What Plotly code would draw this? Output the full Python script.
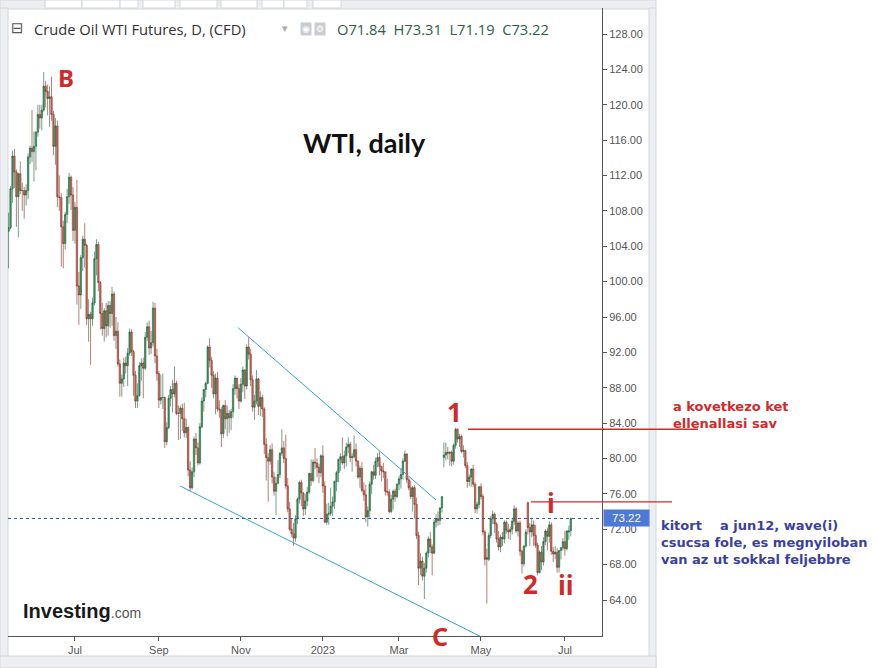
import pandas as pd
import plotly.graph_objects as go

W, H = 878, 668

# trading days (NYMEX holidays removed)
holidays = ['2022-05-30', '2022-06-20', '2022-07-04', '2022-09-05', '2022-11-24',
            '2022-12-26', '2023-01-02', '2023-01-16', '2023-02-20', '2023-04-07',
            '2023-05-29', '2023-06-19', '2023-07-04']
days = pd.bdate_range('2022-05-12', '2023-07-07')
days = days[~days.isin(pd.to_datetime(holidays))]
dates = days.strftime('%Y-%m-%d').tolist()

tick_months = ['2022-07', '2022-09', '2022-11', '2023-01', '2023-03', '2023-05', '2023-07']
tick_labels = ['Jul', 'Sep', 'Nov', '2023', 'Mar', 'May', 'Jul']
price_ticks = list(range(64, 129, 4))

# daily OHLC, one row per month
open_ = [
    105.7, 106.1, 110.5, 114.2, 112.4, 109.6, 112.2, 110.3, 110.3, 109.8, 110.3, 114.1, 115.1,
    114.7, 115.3, 116.9, 118.9, 118.5, 119.4, 122.1, 121.5, 120.7, 120.9, 118.9, 115.3, 117.6, 109.6, 109.5, 106.2, 104.3, 107.6, 109.6, 111.8, 109.8,
    105.8, 108.4, 99.5, 98.5, 102.7, 104.8, 104.1, 95.8, 96.3, 95.8, 97.6, 102.6, 104.2, 99.9, 96.4, 94.7, 96.7, 95.0, 97.3, 96.4,
    98.6, 93.9, 94.4, 90.7, 88.5, 89.0, 90.8, 90.5, 91.9, 94.3, 92.1, 89.4, 86.5, 87.1, 90.5, 90.8, 90.2, 93.7, 94.9, 92.5, 93.1, 97.0, 91.6,
    89.6, 86.6, 86.9, 86.9, 81.9, 83.5, 86.8, 87.8, 87.3, 88.5, 85.1, 85.1, 85.7, 84.5, 82.9, 83.5, 78.7, 76.7, 78.5, 82.2, 81.2,
    79.5, 83.6, 86.5, 87.8, 88.5, 92.6, 91.1, 89.4, 87.3, 89.1, 85.6, 85.5, 82.8, 86.0, 84.5, 85.1, 84.6, 85.3, 87.9, 89.1, 87.9,
    86.5, 88.4, 90.0, 88.2, 92.6, 91.8, 88.9, 85.8, 86.5, 89.0, 85.9, 86.9, 85.6, 81.6, 80.1, 79.7, 81.0, 77.9, 76.3, 77.2, 78.2,
    80.6, 81.2, 80.0, 76.9, 74.3, 72.0, 71.5, 71.0, 73.2, 75.4, 77.3, 76.1, 74.3, 75.2, 76.2, 78.3, 77.5, 79.6, 79.5, 79.0, 78.4,
    80.3, 76.9, 72.8, 73.7, 73.8, 74.6, 75.1, 77.4, 78.4, 79.9, 80.2, 79.5, 80.3, 81.3, 81.6, 80.1, 80.2, 81.0, 79.7, 77.9,
    78.9, 76.4, 75.9, 73.4, 74.1, 77.1, 78.5, 78.1, 79.7, 80.1, 79.1, 78.6, 78.5, 76.3, 76.2, 74.0, 75.4, 76.3, 75.7,
    77.1, 77.7, 78.2, 79.7, 80.5, 77.6, 76.7, 75.7, 76.7, 74.8, 71.3, 67.6, 68.4, 66.7, 67.6, 69.3, 70.9, 70.0, 69.3, 72.8, 73.2, 73.0, 74.4,
    80.1, 80.4, 80.7, 80.6, 80.7, 79.7, 81.5, 83.3, 82.2, 82.5, 80.8, 80.9, 79.2, 77.4, 77.9, 78.8, 77.1, 74.3, 74.8,
    76.8, 75.7, 71.7, 68.8, 68.6, 71.3, 73.2, 73.7, 72.6, 70.9, 70.0, 71.1, 70.9, 72.8, 71.9, 71.7, 72.0, 72.9, 74.3, 71.8, 72.7, 69.5,
    68.1, 70.1, 75.0, 72.2, 71.7, 72.5, 71.3, 70.2, 67.1, 69.4, 68.3, 70.6, 71.8, 71.2, 72.5, 69.5, 69.2, 69.4, 67.7, 69.6, 69.9,
    70.6, 69.8, 71.7, 71.84,
]
high = [
    107.8, 110.8, 114.8, 115.0, 112.7, 112.3, 113.6, 111.2, 110.7, 111.0, 114.5, 115.4, 119.4,
    117.0, 117.0, 120.0, 120.0, 120.0, 123.7, 122.7, 122.3, 122.1, 123.2, 119.3, 118.5, 118.2, 112.0, 110.0, 106.9, 107.9, 110.5, 112.3, 112.0, 110.7,
    109.0, 111.5, 101.1, 103.0, 105.2, 106.6, 104.3, 98.0, 96.6, 98.2, 103.4, 104.8, 104.5, 100.1, 97.6, 97.0, 97.6, 97.8, 97.8, 99.4,
    98.9, 96.0, 95.4, 91.2, 89.5, 91.4, 91.5, 92.5, 94.7, 94.6, 92.3, 89.9, 88.5, 90.9, 91.3, 91.4, 94.3, 95.4, 95.6, 94.4, 97.7, 97.6, 92.4,
    89.9, 89.5, 89.6, 87.0, 84.1, 87.2, 88.2, 88.9, 90.4, 88.8, 86.0, 86.0, 86.2, 86.3, 84.5, 83.6, 79.7, 79.0, 82.5, 82.9, 81.8,
    84.0, 86.9, 87.8, 88.7, 92.8, 93.6, 91.5, 89.9, 89.6, 89.8, 86.6, 85.8, 86.1, 86.6, 86.0, 85.5, 85.6, 88.4, 89.4, 89.1, 88.4,
    89.1, 90.4, 90.1, 92.9, 93.7, 92.4, 89.4, 87.2, 90.0, 89.1, 87.6, 87.2, 85.8, 82.3, 80.6, 81.5, 81.7, 78.5, 77.9, 79.8, 80.7,
    83.3, 82.0, 82.7, 77.8, 75.1, 73.2, 72.7, 73.6, 75.6, 77.5, 77.6, 76.2, 76.0, 76.8, 78.4, 79.9, 79.9, 81.2, 80.0, 79.4, 80.5,
    81.5, 77.4, 74.9, 75.0, 76.7, 75.7, 77.5, 78.6, 80.0, 80.6, 82.4, 80.9, 81.8, 82.4, 81.9, 80.6, 82.6, 81.7, 79.8, 79.2,
    79.6, 77.3, 77.0, 74.6, 77.4, 78.6, 79.3, 80.1, 80.6, 80.8, 79.2, 79.5, 78.5, 77.7, 76.5, 75.9, 76.5, 76.6, 77.2,
    78.0, 78.9, 80.0, 80.9, 80.6, 77.9, 77.5, 76.9, 77.0, 75.6, 71.7, 69.3, 68.9, 68.2, 69.5, 71.2, 71.7, 70.3, 73.1, 73.7, 74.0, 74.5, 75.7,
    81.8, 81.8, 81.3, 80.8, 80.9, 81.7, 83.5, 83.4, 82.8, 82.7, 81.5, 81.0, 79.6, 78.2, 78.9, 79.3, 77.3, 75.1, 76.9,
    77.2, 76.0, 71.9, 69.8, 71.6, 73.5, 74.1, 73.9, 72.8, 71.8, 71.4, 71.7, 73.0, 73.0, 72.6, 72.3, 73.3, 74.7, 74.5, 72.9, 73.0, 69.7,
    70.2, 72.0, 75.1, 72.7, 73.3, 73.0, 72.5, 70.5, 69.6, 70.1, 71.1, 72.0, 72.2, 72.9, 72.8, 70.0, 70.1, 69.9, 69.6, 70.0, 71.0,
    71.8, 71.9, 72.4, 73.31,
]
low = [
    101.5, 105.9, 108.9, 110.6, 106.2, 105.0, 109.9, 108.0, 107.1, 108.6, 109.3, 113.3, 113.5,
    111.3, 112.6, 116.4, 117.3, 117.1, 119.2, 119.7, 118.8, 117.5, 118.2, 114.3, 113.2, 108.4, 108.0, 101.7, 101.5, 103.6, 106.6, 108.8, 108.1, 104.6,
    104.3, 97.4, 95.1, 96.9, 101.2, 101.6, 95.1, 93.2, 90.6, 95.0, 97.3, 100.7, 98.9, 94.6, 93.9, 93.2, 93.7, 93.9, 94.8, 95.0,
    93.3, 92.4, 90.4, 87.0, 87.0, 88.1, 89.6, 88.2, 91.6, 91.6, 87.1, 85.7, 85.7, 87.0, 88.8, 86.8, 90.0, 93.3, 91.7, 91.8, 92.7, 90.8, 88.8,
    85.7, 86.1, 85.6, 81.2, 81.5, 83.3, 85.9, 85.2, 86.9, 84.9, 82.1, 82.2, 83.1, 82.4, 82.3, 78.0, 76.3, 76.5, 77.9, 80.4, 79.2,
    79.3, 83.4, 85.3, 86.9, 88.4, 90.3, 88.0, 86.8, 85.0, 85.3, 84.6, 81.3, 82.3, 83.3, 82.5, 82.9, 83.2, 84.6, 87.2, 86.8, 85.6,
    86.3, 87.5, 86.7, 87.8, 91.2, 88.2, 85.3, 84.4, 86.1, 84.9, 84.8, 84.7, 80.5, 77.5, 75.1, 79.3, 77.2, 75.8, 73.6, 77.1, 77.8,
    80.3, 79.5, 76.6, 73.9, 71.8, 71.1, 70.1, 70.6, 72.6, 74.9, 74.6, 73.5, 73.6, 74.6, 76.0, 76.9, 77.3, 78.8, 77.9, 77.2, 77.9,
    76.1, 72.7, 72.5, 72.5, 73.5, 73.5, 74.3, 76.3, 77.3, 78.6, 79.3, 78.8, 79.1, 80.6, 79.6, 78.5, 80.0, 79.1, 77.7, 76.7,
    76.2, 75.2, 72.8, 72.3, 73.3, 76.0, 77.6, 77.7, 79.0, 78.1, 77.4, 77.8, 75.8, 75.8, 73.8, 73.8, 74.2, 75.1, 75.5,
    76.4, 76.6, 77.6, 79.6, 77.2, 76.4, 75.4, 74.0, 73.2, 70.9, 65.7, 66.8, 66.2, 64.1, 67.1, 68.8, 69.3, 66.8, 69.2, 72.2, 72.4, 72.5, 73.9,
    79.0, 79.8, 79.9, 79.2, 79.1, 79.3, 81.1, 81.8, 81.3, 80.6, 80.1, 78.9, 76.7, 76.9, 76.8, 76.8, 73.8, 73.8, 74.4,
    75.4, 71.3, 67.9, 63.6, 68.4, 71.0, 72.6, 71.6, 70.5, 69.6, 69.4, 70.1, 70.4, 71.5, 70.9, 70.8, 71.4, 72.5, 71.6, 71.2, 69.0, 67.0,
    67.8, 69.9, 71.4, 70.1, 71.1, 70.1, 69.9, 66.8, 67.0, 67.4, 67.9, 70.2, 69.6, 70.5, 69.1, 68.3, 68.6, 67.1, 67.1, 68.6, 69.6,
    69.0, 69.6, 70.8, 71.19,
]
close = [
    106.1, 110.5, 114.2, 112.4, 109.6, 112.2, 110.3, 110.3, 109.8, 110.3, 114.1, 115.1, 114.7,
    115.3, 116.9, 118.9, 118.5, 119.4, 122.1, 121.5, 120.7, 120.9, 118.9, 115.3, 117.6, 109.6, 109.5, 106.2, 104.3, 107.6, 109.6, 111.8, 109.8, 105.8,
    108.4, 99.5, 98.5, 102.7, 104.8, 104.1, 95.8, 96.3, 95.8, 97.6, 102.6, 104.2, 99.9, 96.4, 94.7, 96.7, 95.0, 97.3, 96.4, 98.6,
    93.9, 94.4, 90.7, 88.5, 89.0, 90.8, 90.5, 91.9, 94.3, 92.1, 89.4, 86.5, 87.1, 90.5, 90.8, 90.2, 93.7, 94.9, 92.5, 93.1, 97.0, 91.6, 89.6,
    86.6, 86.9, 86.9, 81.9, 83.5, 86.8, 87.8, 87.3, 88.5, 85.1, 85.1, 85.7, 84.5, 82.9, 83.5, 78.7, 76.7, 78.5, 82.2, 81.2, 79.5,
    83.6, 86.5, 87.8, 88.5, 92.6, 91.1, 89.4, 87.3, 89.1, 85.6, 85.5, 82.8, 86.0, 84.5, 85.1, 84.6, 85.3, 87.9, 89.1, 87.9, 86.5,
    88.4, 90.0, 88.2, 92.6, 91.8, 88.9, 85.8, 86.5, 89.0, 85.9, 86.9, 85.6, 81.6, 80.1, 79.7, 81.0, 77.9, 76.3, 77.2, 78.2, 80.6,
    81.2, 80.0, 76.9, 74.3, 72.0, 71.5, 71.0, 73.2, 75.4, 77.3, 76.1, 74.3, 75.2, 76.2, 78.3, 77.5, 79.6, 79.5, 79.0, 78.4, 80.3,
    76.9, 72.8, 73.7, 73.8, 74.6, 75.1, 77.4, 78.4, 79.9, 80.2, 79.5, 80.3, 81.3, 81.6, 80.1, 80.2, 81.0, 79.7, 77.9, 78.9,
    76.4, 75.9, 73.4, 74.1, 77.1, 78.5, 78.1, 79.7, 80.1, 79.1, 78.6, 78.5, 76.3, 76.2, 74.0, 75.4, 76.3, 75.7, 77.1,
    77.7, 78.2, 79.7, 80.5, 77.6, 76.7, 75.7, 76.7, 74.8, 71.3, 67.6, 68.4, 66.7, 67.6, 69.3, 70.9, 70.0, 69.3, 72.8, 73.2, 73.0, 74.4, 75.7,
    80.4, 80.7, 80.6, 80.7, 79.7, 81.5, 83.3, 82.2, 82.5, 80.8, 80.9, 79.2, 77.4, 77.9, 78.8, 77.1, 74.3, 74.8, 76.8,
    75.7, 71.7, 68.6, 68.6, 71.3, 73.2, 73.7, 72.6, 70.9, 70.0, 71.1, 70.9, 72.8, 71.9, 71.7, 72.0, 72.9, 74.3, 71.8, 72.7, 69.5, 68.1,
    70.1, 71.7, 72.2, 71.7, 72.5, 71.3, 70.2, 67.1, 69.4, 68.3, 70.6, 71.8, 71.2, 72.5, 69.5, 69.2, 69.4, 67.7, 69.6, 69.9, 70.6,
    69.8, 71.8, 71.8, 73.22,
]

# hand-drawn trend channel (index, price) and resistance levels
channel_upper = [(117.5, 94.8), (219.0, 75.3)]
channel_lower = [(87.8, 76.9), (241.5, 59.9)]
level_1 = 83.3
level_i = 75.1

tickvals = [next(d for d in dates if d.startswith(m)) for m in tick_months]


def px(x):
    return x / W


def py(y):
    return 1 - y / H


fig = go.Figure()

fig.add_trace(go.Candlestick(
    x=dates, open=open_, high=high, low=low, close=close,
    increasing=dict(line=dict(color='#1f5a38', width=0.6), fillcolor='#2ea566'),
    decreasing=dict(line=dict(color='#7a2a20', width=0.6), fillcolor='#e2705d'),
    whiskerwidth=0, hoverinfo='skip', showlegend=False
))

shapes = []
# frame strips
strip = '#eceef1'
shapes.append(dict(type='rect', xref='paper', yref='paper', x0=0, x1=px(656), y0=py(9), y1=1,
                   fillcolor=strip, line=dict(color='#d3d6db', width=1), layer='below'))
for a, b in [(45, 82), (82, 120), (120, 138), (143, 175), (180, 217), (221, 257), (262, 284), (284, 307), (313, 341)]:
    shapes.append(dict(type='rect', xref='paper', yref='paper', x0=px(a), x1=px(b), y0=py(8), y1=1,
                       fillcolor='white', line=dict(color='#d3d6db', width=1), layer='below'))
shapes.append(dict(type='rect', xref='paper', yref='paper', x0=0, x1=px(8), y0=0, y1=py(8),
                   fillcolor=strip, line=dict(color='#d3d6db', width=1), layer='below'))
shapes.append(dict(type='rect', xref='paper', yref='paper', x0=px(649), x1=px(656), y0=0, y1=py(8),
                   fillcolor=strip, line=dict(color='#d3d6db', width=1), layer='below'))
shapes.append(dict(type='rect', xref='paper', yref='paper', x0=0, x1=px(656), y0=0, y1=py(656),
                   fillcolor=strip, line=dict(color='#d3d6db', width=1), layer='below'))

# trend channel
for (x0, y0), (x1, y1) in [channel_upper, channel_lower]:
    shapes.append(dict(type='line', xref='x', yref='y', x0=x0, y0=y0, x1=x1, y1=y1,
                       line=dict(color='#35a3cc', width=1)))

# last price dotted line
shapes.append(dict(type='line', xref='paper', yref='y', x0=px(8), x1=px(602), y0=close[-1], y1=close[-1],
                   line=dict(color='#2f5b9b', width=1, dash='dot')))

# red resistance lines
shapes.append(dict(type='line', xref='paper', yref='y', x0=px(468), x1=px(698), y0=level_1, y1=level_1,
                   line=dict(color='#cc2b2b', width=1.4)))
shapes.append(dict(type='line', xref='paper', yref='y', x0=px(531), x1=px(672), y0=level_i, y1=level_i,
                   line=dict(color='#cc2b2b', width=1.4)))

red = '#d02a2a'
blue = '#3b3f9e'
ann = []


def label(text, x, y, size, color, family='Noto Sans', xanchor='center', bold=True, **kw):
    t = f'<b>{text}</b>' if bold else text
    ann.append(dict(text=t, x=px(x), y=py(y), xref='paper', yref='paper', xanchor=xanchor,
                    yanchor='middle', showarrow=False, font=dict(size=size, color=color, family=family), **kw))


label('B', 66, 77, 24, red)
label('WTI, daily', 364, 143, 27, '#111111', family='Lato')
label('1', 454, 412, 26, red)
label('C', 440, 636, 25, red)
label('2', 530, 584, 26, red)
label('ii', 566, 585, 26, red)
label('i', 551, 503, 26, red)
label('a kovetkezo ket<br>ellenallasi sav', 671, 415, 13, red, family='DejaVu Sans', xanchor='left', align='left')
label('kitort&nbsp;&nbsp;&nbsp;&nbsp;a jun12, wave(i)<br>csucsa fole, es megnyiloban<br>van az ut sokkal feljebbre',
      659, 542, 13, blue, family='DejaVu Sans', xanchor='left', align='left')

# header
label('⊟', 17, 28, 15, '#555555', family='DejaVu Sans', bold=False)
label('Crude Oil WTI Futures, D, (CFD)', 32, 29, 14.7, '#333333', family='Open Sans', xanchor='left', bold=False)
label('▾', 285, 29, 11, '#aaaaaa', family='DejaVu Sans', bold=False)
label('◉', 306, 29, 9, 'white', family='DejaVu Sans', bold=False, bgcolor='#c9ccd1', borderpad=1)
label('⚙', 320, 29, 9, 'white', family='DejaVu Sans', bold=False, bgcolor='#c9ccd1', borderpad=1)
ohlc = f'O{open_[-1]:.2f}  H{high[-1]:.2f}  L{low[-1]:.2f}  C{close[-1]:.2f}'
label(ohlc.replace('  ', '&nbsp;&nbsp;'), 335, 29, 14.7, '#2f5e47', family='Open Sans', xanchor='left', bold=False)

# logo
label("<b>Investing</b><span style='font-size:14px;color:#555555'>.com</span>", 21, 611, 20, '#1a1a1a',
      family='Liberation Sans', xanchor='left', bold=False)

# last price tag
ann.append(dict(text=f'{close[-1]:.2f}', x=px(626), y=close[-1], xref='paper', yref='y',
                xanchor='center', yanchor='middle', showarrow=False, bgcolor='#4c7ad6',
                width=43, height=14, font=dict(size=11.5, color='white', family='Liberation Sans')))

fig.update_layout(
    width=W, height=H,
    margin=dict(l=0, r=0, t=0, b=0),
    paper_bgcolor='white', plot_bgcolor='white',
    showlegend=False, boxgap=0.0,
    shapes=shapes, annotations=ann,
    xaxis=dict(
        type='category', domain=[px(8), px(602)], range=[-0.3, 304],
        rangeslider=dict(visible=False), showgrid=False, zeroline=False,
        showline=True, linecolor='#555555', linewidth=1,
        tickmode='array', tickvals=tickvals, ticktext=tick_labels,
        ticks='outside', ticklen=4, tickcolor='#555555',
        tickfont=dict(size=11, color='#555555', family='Liberation Sans')
    ),
    yaxis=dict(
        side='right', domain=[py(636), py(8)], range=[59.93, 130.94],
        showgrid=False, zeroline=False,
        showline=True, linecolor='#555555', linewidth=1,
        tickmode='array', tickvals=price_ticks, tickformat='.2f',
        ticks='outside', ticklen=4, tickcolor='#555555',
        tickfont=dict(size=11, color='#555555', family='Liberation Sans')
    ),
)

# drop the default page margin so the figure sits at the window's corner
fig.write_html("out.html", config={'displayModeBar': False},
               post_script="document.body.style.margin='0px';")
